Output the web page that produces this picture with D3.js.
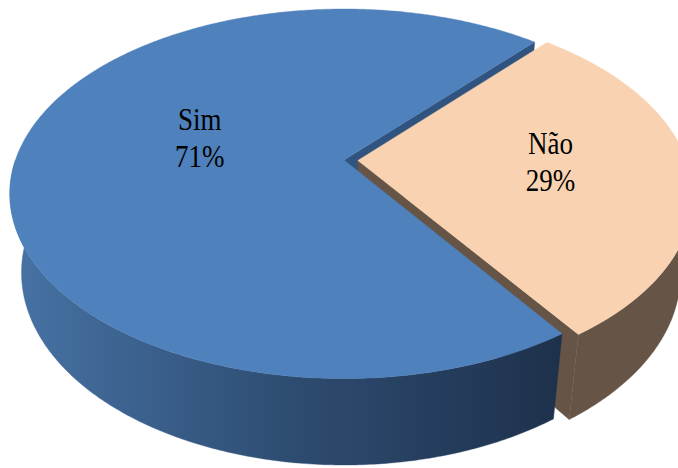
<!DOCTYPE html>
<html>
<head>
<meta charset="utf-8">
<script src="https://cdn.jsdelivr.net/npm/d3@7"></script>
<style>
html,body{margin:0;padding:0;background:#fff;}
svg{display:block;}
</style>
</head>
<body>
<svg id="chart" width="678" height="468"></svg>
<script>
// ---- data ----
const categories = ["Sim", "Não"];
const values = [71, 29];
const topColors = ["#4F81BD", "#F9D3B1"];
const cutColors = ["#30547F", "#665546"];

// ---- projection (3D pie with perspective) ----
const W = 678, H = 468;
const cx = 344, cy = 160, SF = 1508;
const sinA = 0.5436, cosA = 0.839, D0 = 4.59, DEPTH = 0.295;
const explode = [0, 0.042];
const startAngle = 145.7 * Math.PI / 180;

function proj(x, y, z) {
  const d = D0 + y * cosA - z * sinA;
  return [cx + SF * x / d, cy - SF * (y * sinA + z * cosA) / d];
}
const camX = 0, camY = -D0 * cosA;

const svg = d3.select("#chart");
const defs = svg.append("defs");
const grad = defs.append("linearGradient").attr("id", "simSide")
  .attr("gradientUnits", "userSpaceOnUse").attr("x1", 10).attr("y1", 0).attr("x2", 560).attr("y2", 0);
grad.append("stop").attr("offset", 0).attr("stop-color", "#4773A5");
grad.append("stop").attr("offset", 0.5).attr("stop-color", "#2E4D72");
grad.append("stop").attr("offset", 1).attr("stop-color", "#1E314C");
const sideFills = ["url(#simSide)", "#665546"];

const pie = d3.pie().sort(null).value(d => d).startAngle(startAngle).endAngle(startAngle + 2 * Math.PI);
const arcs = pie(values);

const line = d3.line();
const faces = [];
const tops = [];

arcs.forEach((a, i) => {
  const mid = (a.startAngle + a.endAngle) / 2;
  const e = explode[i];
  const ox = e * Math.sin(mid), oy = e * Math.cos(mid);
  const P = (ang, r, z) => proj(ox + r * Math.sin(ang), oy + r * Math.cos(ang), z);
  const W3 = (ang, r) => [ox + r * Math.sin(ang), oy + r * Math.cos(ang)];

  // top face
  const topPts = [P(0, 0, 0)];
  const n = Math.max(8, Math.ceil((a.endAngle - a.startAngle) / 0.01));
  for (let k = 0; k <= n; k++) {
    const ang = a.startAngle + (a.endAngle - a.startAngle) * k / n;
    topPts.push(P(ang, 1, 0));
  }
  tops.push({ pts: topPts, fill: topColors[i] });

  // outer wall: front half
  [0, 2 * Math.PI].forEach(k => {
    const lo = Math.max(a.startAngle, Math.PI / 2 + k);
    const hi = Math.min(a.endAngle, 3 * Math.PI / 2 + k);
    if (hi <= lo) return;
    const m = Math.max(4, Math.ceil((hi - lo) / 0.01));
    const tp = [], bp = [];
    let sy = 0;
    for (let j = 0; j <= m; j++) {
      const ang = lo + (hi - lo) * j / m;
      tp.push(P(ang, 1, 0));
      bp.push(P(ang, 1, -DEPTH));
      sy += W3(ang, 1)[1];
    }
    faces.push({ pts: tp.concat(bp.reverse()), fill: sideFills[i], depth: D0 + (sy / (m + 1)) * cosA });
  });

  // radial cut faces
  [[a.startAngle, -1], [a.endAngle, 1]].forEach(([ang, s]) => {
    const nx = s * Math.cos(ang), ny = -s * Math.sin(ang);
    const pm = W3(ang, 0.5);
    const vis = nx * (camX - pm[0]) + ny * (camY - pm[1]) > 0;
    if (!vis) return;
    faces.push({
      pts: [P(ang, 0, 0), P(ang, 1, 0), P(ang, 1, -DEPTH), P(ang, 0, -DEPTH)],
      fill: cutColors[i], depth: D0 + pm[1] * cosA
    });
  });
});

faces.sort((p, q) => q.depth - p.depth);
const g = svg.append("g");
g.selectAll("path.side").data(faces).enter().append("path")
  .attr("class", "side").attr("d", d => line(d.pts) + "Z")
  .attr("fill", d => d.fill).attr("stroke", d => d.fill).attr("stroke-width", 0.4);
g.selectAll("path.top").data(tops).enter().append("path")
  .attr("class", "top").attr("d", d => line(d.pts) + "Z")
  .attr("fill", d => d.fill).attr("stroke", d => d.fill).attr("stroke-width", 0.4);

// ---- labels ----
const fmt = d3.format(".0%");
const total = d3.sum(values);
const labelR = [0.466, 0.585];
const labelShift = [-11.9 * Math.PI / 180, 2.6 * Math.PI / 180];
arcs.forEach((a, i) => {
  const mid = (a.startAngle + a.endAngle) / 2;
  const e = explode[i];
  const ang = mid - labelShift[i];
  const p = proj(e * Math.sin(mid) + labelR[i] * Math.sin(ang), e * Math.cos(mid) + labelR[i] * Math.cos(ang), 0);
  const lines = [categories[i], fmt(values[i] / total)];
  const offs = [-8, 29];
  lines.forEach((t, j) => {
    svg.append("text")
      .attr("transform", `translate(${p[0]},${p[1] + offs[j]}) scale(1,1.2)`)
      .attr("text-anchor", "middle")
      .attr("font-family", "'Liberation Serif', 'Times New Roman', serif")
      .attr("font-size", 27)
      .attr("fill", "#000")
      .text(t);
  });
});
</script>
</body>
</html>
